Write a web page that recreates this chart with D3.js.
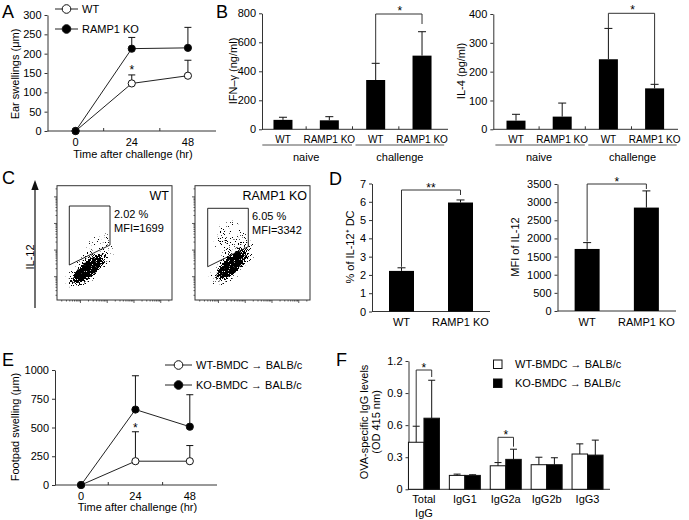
<!DOCTYPE html>
<html>
<head>
<meta charset="utf-8">
<script src="https://cdn.jsdelivr.net/npm/d3@7"></script>
<style>
  body { margin: 0; background: #fff; }
  svg { display: block; font-family: "Liberation Sans", Arial, sans-serif; }
</style>
</head>
<body>
<svg id="fig" width="689" height="520"></svg>
<script>
// ---------- data ----------
const timePoints = [0, 24, 48];

// A: ear swelling (um)
const earWT = [0, 123, 143];
const earWTErr = [0, 22, 40];
const earKO = [0, 213, 215];
const earKOErr = [0, 29, 53];

// B: cytokines
const cytoLabels = ["WT", "RAMP1 KO", "WT", "RAMP1 KO"];
const cytoGroups = ["naive", "challenge"];
const ifng = [65, 62, 340, 508];
const ifngErr = [18, 25, 115, 165];
const il4 = [30, 44, 243, 142];
const il4Err = [22, 47, 107, 14];

// C: flow plots
const flowLabels = ["WT", "RAMP1 KO"];
const flowPct = ["2.02 %", "6.05 %"];
const flowMfi = ["MFI=1699", "MFI=3342"];

// D: IL-12+ DC
const dcLabels = ["WT", "RAMP1 KO"];
const il12Pct = [2.22, 5.96];
const il12PctErr = [0.17, 0.14];
const il12Mfi = [1710, 2850];
const il12MfiErr = [175, 460];

// E: footpad swelling (um)
const footWT = [0, 207, 207];
const footWTErr = [0, 256, 136];
const footKO = [0, 656, 507];
const footKOErr = [0, 294, 278];

// F: OVA-specific IgG
const igLabels = ["Total IgG", "IgG1", "IgG2a", "IgG2b", "IgG3"];
const igWT = [0.44, 0.13, 0.22, 0.23, 0.33];
const igWTErr = [0.15, 0.012, 0.03, 0.07, 0.095];
const igKO = [0.665, 0.13, 0.28, 0.23, 0.32];
const igKOErr = [0.355, 0.006, 0.095, 0.065, 0.14];

// ---------- helpers ----------
var svg = d3.select("#fig");
var AX = "#333";

function text(x, y, s, anchor, size, g) {
  return (g || svg).append("text")
    .attr("x", x).attr("y", y)
    .attr("text-anchor", anchor || "middle")
    .attr("dominant-baseline", "central")
    .attr("font-size", size || 11)
    .text(s);
}
function vtext(x, y, s, size) {
  return svg.append("text")
    .attr("transform", "translate(" + x + "," + y + ") rotate(-90)")
    .attr("text-anchor", "middle")
    .attr("dominant-baseline", "central")
    .attr("font-size", size || 11)
    .text(s);
}
function line(x1, y1, x2, y2, w, c) {
  return svg.append("line")
    .attr("x1", x1).attr("y1", y1).attr("x2", x2).attr("y2", y2)
    .attr("stroke", c || AX).attr("stroke-width", w || 1);
}
function leftAxis(y, x0, ticks, fmt) {
  svg.append("g")
    .attr("transform", "translate(" + x0 + ",0)")
    .call(d3.axisLeft(y).tickValues(ticks).tickSize(3).tickSizeOuter(0).tickPadding(3)
      .tickFormat(fmt || d3.format("")))
    .call(function (a) {
      a.attr("font-size", 11).attr("font-family", null);
      a.selectAll("path,line").attr("stroke", AX);
      a.selectAll("text").attr("fill", "#000");
    });
}
function errUp(x, yTop, yBase, half) {
  line(x, yBase, x, yTop, 1, "#111");
  line(x - half, yTop, x + half, yTop, 1, "#111");
}
function star(x, cy, s) {
  svg.append("text").attr("x", x).attr("y", cy + 7)
    .attr("text-anchor", "middle").attr("font-size", 12).text(s || "*");
}
function bracket(xl, xr, top, yl, yr) {
  svg.append("path")
    .attr("d", "M" + xl + "," + yl + "V" + top + "H" + xr + "V" + yr)
    .attr("fill", "none").attr("stroke", AX).attr("stroke-width", 1);
}
function panelLetter(x, y, s) {
  svg.append("text").attr("x", x).attr("y", y).attr("font-size", 18).text(s);
}

// ---------- line panels (A, E) ----------
function linePanel(p) {
  var x = d3.scaleLinear().domain(p.xd).range(p.xr);
  var y = d3.scaleLinear().domain(p.yd).range(p.yr);
  leftAxis(y, p.xr[0], p.yTicks);
  line(p.xr[0], p.yr[0], p.xr[1], p.yr[0]);
  [12, 36].forEach(function (t) { line(x(t), p.yr[0], x(t), p.yr[0] - 3); });
  timePoints.forEach(function (t) { text(x(t), p.tickY, t); });
  text(p.xLabX, p.xLabY, "Time after challenge (hr)");
  vtext(p.yLabX, p.yLabY, p.yLabel);

  var path = d3.line().x(function (d, i) { return x(timePoints[i]); }).y(function (d) { return y(d); });
  p.series.forEach(function (s) {
    svg.append("path").attr("d", path(s.v)).attr("fill", "none")
      .attr("stroke", "#222").attr("stroke-width", 1);
  });
  p.series.forEach(function (s) {
    s.v.forEach(function (v, i) {
      if (s.e[i] > 0) errUp(x(timePoints[i]), y(v + s.e[i]), y(v), 3.5);
    });
  });
  p.series.forEach(function (s) {
    svg.append("g").selectAll("circle").data(s.v).enter().append("circle")
      .attr("cx", function (d, i) { return x(timePoints[i]); })
      .attr("cy", function (d) { return y(d); })
      .attr("r", 3.6)
      .attr("fill", s.fill).attr("stroke", "#111").attr("stroke-width", 1);
  });
  // legend
  p.series.forEach(function (s, i) {
    var ly = p.legY[i];
    line(p.legX[0], ly, p.legX[1], ly, 1, "#222");
    svg.append("circle").attr("cx", (p.legX[0] + p.legX[1]) / 2).attr("cy", ly).attr("r", 4.3)
      .attr("fill", s.fill).attr("stroke", "#111");
    text(p.legX[1] + 4, ly, s.name, "start");
  });
  star(x(24), p.starY);
}

linePanel({
  xd: [-12, 60], xr: [47.5, 216], yd: [0, 300], yr: [131, 15],
  yTicks: d3.range(0, 301, 50), tickY: 141.5,
  xLabX: 133, xLabY: 153.5, yLabX: 15, yLabY: 74, yLabel: "Ear swellings (\u03bcm)",
  series: [
    { name: "WT", v: earWT, e: earWTErr, fill: "#fff" },
    { name: "RAMP1 KO", v: earKO, e: earKOErr, fill: "#000" }
  ],
  legX: [55, 78], legY: [9, 29], starY: 67
});

linePanel({
  xd: [-11.5, 60], xr: [55, 217], yd: [0, 1000], yr: [485, 370],
  yTicks: d3.range(0, 1001, 250), tickY: 495.5,
  xLabX: 137.5, xLabY: 506.5, yLabX: 15, yLabY: 427, yLabel: "Footpad swelling (\u03bcm)",
  series: [
    { name: "WT-BMDC \u2192 BALB/c", v: footWT, e: footWTErr, fill: "#fff" },
    { name: "KO-BMDC \u2192 BALB/c", v: footKO, e: footKOErr, fill: "#000" }
  ],
  legX: [165, 192], legY: [365, 385], starY: 425
});

// ---------- cytokine panels (B) ----------
function cytoPanel(p) {
  var x = d3.scaleBand().domain(d3.range(4)).range(p.xr);
  var y = d3.scaleLinear().domain(p.yd).range(p.yr);
  var cx = function (i) { return x(i) + x.bandwidth() / 2; };
  leftAxis(y, p.ax, p.yTicks);
  line(p.ax, p.yr[0], p.xEnd, p.yr[0]);
  [1, 2, 3].forEach(function (i) { line(x(i), p.yr[0], x(i), p.yr[0] - 3); });

  svg.append("g").selectAll("rect").data(p.v).enter().append("rect")
    .attr("x", function (d, i) { return cx(i) - 9.5; })
    .attr("y", function (d) { return y(d); })
    .attr("width", 19)
    .attr("height", function (d) { return y(0) - y(d); })
    .attr("fill", "#000");
  p.v.forEach(function (v, i) { errUp(cx(i), y(v + p.e[i]), y(v), 4); });

  cytoLabels.forEach(function (s, i) { text(cx(i), 139.5, s, "middle", 10); });
  line(x(0) + 2.5, 145, x(2) - 0.5, 145, 1, "#555");
  line(x(2) + 3, 145, p.xr[1] - 1, 145, 1, "#555");
  text((x(0) + x(2)) / 2, 156.5, cytoGroups[0]);
  text((x(2) + p.xr[1]) / 2 + 1, 156.5, cytoGroups[1]);
  vtext(p.yLabX, 71, p.yLabel);

  bracket(cx(2), cx(3), p.brTop, y(p.v[2] + p.e[2]), p.brRight === null ? y(p.v[3] + p.e[3]) : p.brRight);
  star((cx(2) + cx(3)) / 2 + 1, p.brTop - 6);
}

cytoPanel({
  v: ifng, e: ifngErr, xr: [259.8, 445.2], ax: 262, xEnd: 448,
  yd: [0, 800], yr: [129.3, 13.3], yTicks: d3.range(0, 801, 200),
  yLabX: 233, yLabel: "IFN\u2013\u03b3 (ng/ml)", brTop: 14, brRight: 24
});
cytoPanel({
  v: il4, e: il4Err, xr: [492.9, 677.7], ax: 493.3, xEnd: 678,
  yd: [0, 400], yr: [129.3, 14], yTicks: d3.range(0, 401, 100),
  yLabX: 461, yLabel: "IL-4 (pg/ml)", brTop: 13.3, brRight: null
});

// ---------- flow cytometry plots (C) ----------
var defs = svg.append("defs");
var grad = defs.append("radialGradient").attr("id", "dens");
grad.append("stop").attr("offset", "0%").attr("stop-color", "#000").attr("stop-opacity", 1);
grad.append("stop").attr("offset", "60%").attr("stop-color", "#000").attr("stop-opacity", 0.95);
grad.append("stop").attr("offset", "100%").attr("stop-color", "#000").attr("stop-opacity", 0);

// speckle texture: density (alpha) is thresholded against pixel noise
var filt = defs.append("filter").attr("id", "speck")
  .attr("x", "-20%").attr("y", "-20%").attr("width", "140%").attr("height", "140%")
  .attr("color-interpolation-filters", "sRGB");
filt.append("feTurbulence").attr("type", "fractalNoise").attr("baseFrequency", 0.95)
  .attr("numOctaves", 2).attr("seed", 7).attr("result", "noise");
filt.append("feColorMatrix").attr("in", "noise").attr("type", "matrix")
  .attr("values", "0 0 0 0 0  0 0 0 0 0  0 0 0 0 0  2.2 0 0 0 -0.6").attr("result", "na");
filt.append("feComposite").attr("in", "SourceAlpha").attr("in2", "na")
  .attr("operator", "arithmetic").attr("k1", 0).attr("k2", 10).attr("k3", -10).attr("k4", 0);

var boxW = 115, boxH = 114.3, boxTop = 185.7;
var boxLeft = [57, 195];
var gates = [
  [[12.3, 20.3], [53, 20.3], [53, 59.3], [12.3, 79.3]],
  [[12.7, 22.6], [53.3, 22.6], [53.3, 61], [12.7, 81]]
];
var clouds = [
  [{ c: [33, 80], rx: 33, ry: 14, a: -42, o: 0.32 },
   { c: [31, 84], rx: 24, ry: 9, a: -42, o: 1 },
   { c: [42, 57], rx: 15, ry: 9, a: -30, o: 0.14 }],
  [{ c: [38, 77], rx: 33, ry: 14, a: -45, o: 0.35 },
   { c: [37, 79], rx: 23, ry: 9.5, a: -45, o: 1 },
   { c: [35, 52], rx: 20, ry: 17, a: -40, o: 0.2 }]
];
var logS = d3.scaleLog().domain([Math.pow(10, 0.124), Math.pow(10, 4.42)]);

flowLabels.forEach(function (lab, k) {
  var x0 = boxLeft[k];
  var g = svg.append("g").attr("transform", "translate(" + x0 + "," + boxTop + ")");
  defs.append("clipPath").attr("id", "clip" + k).append("rect")
    .attr("width", boxW).attr("height", boxH);
  var cg = g.append("g").attr("clip-path", "url(#clip" + k + ")")
    .append("g").attr("filter", "url(#speck)");
  clouds[k].forEach(function (e) {
    cg.append("ellipse")
      .attr("transform", "translate(" + e.c[0] + "," + e.c[1] + ") rotate(" + e.a + ")")
      .attr("rx", e.rx).attr("ry", e.ry)
      .attr("fill", "url(#dens)").attr("fill-opacity", e.o);
  });
  g.append("rect").attr("width", boxW).attr("height", boxH)
    .attr("fill", "none").attr("stroke", AX).attr("stroke-width", 1);
  // log ticks on left and bottom edges
  var ys = logS.copy().range([boxH, 0]);
  var xs = logS.copy().range([0, boxW]);
  var tv = [];
  for (var d = 1; d <= 10000; d *= 10) for (var m = 1; m < 10; m++) tv.push(d * m);
  tv.filter(function (t) { return t >= logS.domain()[0] && t <= logS.domain()[1]; }).forEach(function (t) {
    var len = Math.log10(t) % 1 === 0 ? 3 : 1.5;
    g.append("line").attr("x1", 0).attr("x2", -len).attr("y1", ys(t)).attr("y2", ys(t))
      .attr("stroke", AX).attr("stroke-width", 0.8);
    g.append("line").attr("y1", boxH).attr("y2", boxH + len).attr("x1", xs(t)).attr("x2", xs(t))
      .attr("stroke", AX).attr("stroke-width", 0.8);
  });
  g.append("path").attr("d", "M" + gates[k].join("L") + "Z")
    .attr("fill", "none").attr("stroke", "#111").attr("stroke-width", 0.9);
  text(boxW - 3, 10.5, lab, "end", 12.5, g);
  text(57, gates[k][0][1] + 8, flowPct[k], "start", 11, g);
  text(57, gates[k][0][1] + 22, flowMfi[k], "start", 11, g);
});

// IL-12 arrow axis
line(35, 308, 35, 188, 1.2, "#111");
svg.append("path").attr("d", "M35,180L31.3,190L38.7,190Z").attr("fill", "#111");
vtext(29.5, 257, "IL-12");

// ---------- D ----------
function dcPanel(p) {
  var x = d3.scaleBand().domain(d3.range(2)).range(p.xr);
  var y = d3.scaleLinear().domain(p.yd).range(p.yr);
  var cx = function (i) { return x(i) + x.bandwidth() / 2; };
  leftAxis(y, p.xr[0], p.yTicks);
  line(p.xr[0], p.yr[0], p.xr[1], p.yr[0]);
  svg.append("g").selectAll("rect").data(p.v).enter().append("rect")
    .attr("x", function (d, i) { return cx(i) - 12.5; })
    .attr("y", function (d) { return y(d); })
    .attr("width", 25)
    .attr("height", function (d) { return y(0) - y(d); })
    .attr("fill", "#000");
  p.v.forEach(function (v, i) { errUp(cx(i), y(v + p.e[i]), y(v), 4); });
  dcLabels.forEach(function (s, i) { text(cx(i), 321.5, s); });
  vtext(p.yLabX, 247, p.yLabel);
  bracket(cx(0), cx(1), p.brTop, y(p.v[0] + p.e[0]) - 1, p.brTop + 5);
  star((cx(0) + cx(1)) / 2, p.brTop - 5, p.stars);
}
dcPanel({
  v: il12Pct, e: il12PctErr, xr: [372, 490], yd: [0, 7], yr: [311.5, 183.5],
  yTicks: d3.range(0, 8), yLabX: 350, yLabel: "% of IL-12\u207a DC", brTop: 190, stars: "**"
});
dcPanel({
  v: il12Mfi, e: il12MfiErr, xr: [557.5, 676], yd: [0, 3500], yr: [311, 184],
  yTicks: d3.range(0, 3501, 500), yLabX: 515, yLabel: "MFI of IL-12", brTop: 184, stars: "*"
});

// ---------- F ----------
(function () {
  var x = d3.scaleBand().domain(d3.range(igLabels.length)).range([403.5, 608]);
  var y = d3.scaleLinear().domain([0, 1.2]).range([489.3, 361]);
  var cx = function (i) { return x(i) + x.bandwidth() / 2; };
  var bw = 15.5;
  leftAxis(y, 408.5, [0, 0.3, 0.6, 0.9, 1.2], function (d) { return d === 0 ? "0" : d3.format(".1f")(d); });
  line(408.5, 489.3, 610, 489.3);

  var series = [
    { v: igWT, e: igWTErr, fill: "#fff", off: -bw },
    { v: igKO, e: igKOErr, fill: "#000", off: 0 }
  ];
  series.forEach(function (s) {
    svg.append("g").selectAll("rect").data(s.v).enter().append("rect")
      .attr("x", function (d, i) { return cx(i) + s.off; })
      .attr("y", function (d) { return y(d); })
      .attr("width", bw)
      .attr("height", function (d) { return y(0) - y(d); })
      .attr("fill", s.fill).attr("stroke", "#111").attr("stroke-width", 1);
  });
  series.forEach(function (s) {
    s.v.forEach(function (v, i) { errUp(cx(i) + s.off + bw / 2, y(v + s.e[i]), y(v), 3.5); });
  });
  igLabels.forEach(function (s, i) {
    if (i === 0) {
      text(cx(i), 498.5, "Total");
      text(cx(i), 512.5, "IgG");
    } else {
      text(cx(i), 498.5, s);
    }
  });
  vtext(363.5, 422, "OVA-specific IgG levels");
  vtext(376, 422, "(OD 415 nm)");

  // brackets
  var wx = function (i) { return cx(i) - bw / 2; };
  var kx = function (i) { return cx(i) + bw / 2; };
  bracket(wx(0), kx(0), 370, y(igWT[0] + igWTErr[0]), 377);
  star(cx(0), 365);
  bracket(wx(2), kx(2), 437.3, y(igWT[2] + igWTErr[2]), 446.7);
  star(cx(2), 431.5);

  // legend
  var legNames = ["WT-BMDC \u2192 BALB/c", "KO-BMDC \u2192 BALB/c"];
  [360, 379].forEach(function (ly, i) {
    svg.append("rect").attr("x", 493.5).attr("y", ly).attr("width", 8.5).attr("height", 8.5)
      .attr("fill", series[i].fill).attr("stroke", "#111");
    text(515, ly + 4.3, legNames[i], "start");
  });
})();

// ---------- panel letters ----------
panelLetter(2, 18, "A");
panelLetter(216, 18, "B");
panelLetter(2, 184, "C");
panelLetter(329, 185, "D");
panelLetter(2, 366, "E");
panelLetter(336, 366, "F");
</script>
</body>
</html>
